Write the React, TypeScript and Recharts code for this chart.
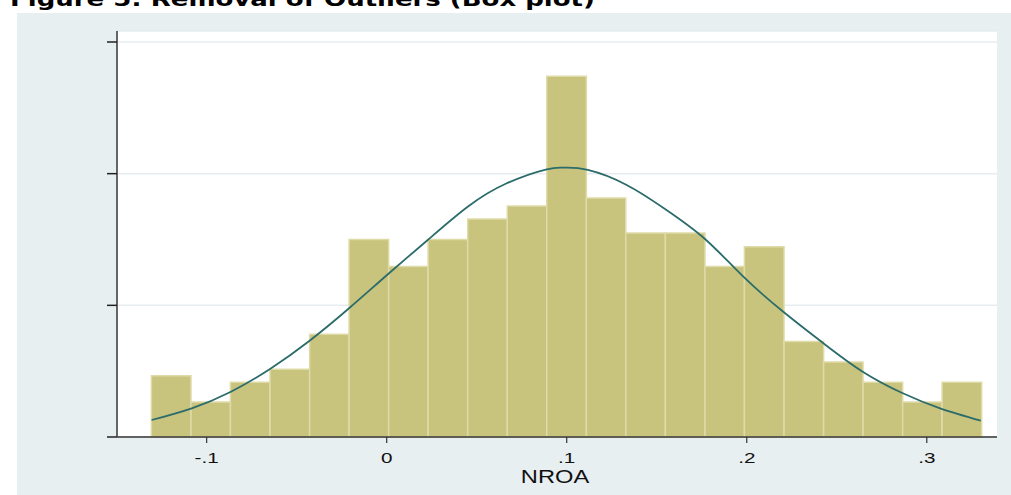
import React from 'react';
import { ComposedChart, Line, XAxis, YAxis, CartesianGrid, ReferenceArea, Label } from 'recharts';

const titleText = 'Figure 5: Removal of Outliers (Box plot)';
const xAxisTitle = 'NROA';

const binEdges = [-0.1307, -0.1087, -0.0868, -0.0648, -0.0428, -0.0209, 0.0011, 0.0230, 0.0450, 0.0670, 0.0889, 0.1109, 0.1328, 0.1548, 0.1768, 0.1987, 0.2207, 0.2427, 0.2646, 0.2866, 0.3085, 0.3305];
const binDensity = [0.93, 0.53, 0.83, 1.03, 1.56, 3.00, 2.59, 3.00, 3.31, 3.51, 5.48, 3.63, 3.10, 3.10, 2.59, 2.89, 1.45, 1.14, 0.83, 0.53, 0.83];

const curveX = [-0.1306, -0.1083, -0.0865, -0.0648, -0.0430, -0.0209, 0.0013, 0.0228, 0.0450, 0.0667, 0.0889, 0.0989, 0.1117, 0.1333, 0.1546, 0.1768, 0.1981, 0.2213, 0.2426, 0.2644, 0.2867, 0.3074, 0.3300];
const curveY = [0.258, 0.436, 0.688, 1.033, 1.458, 1.955, 2.487, 2.993, 3.498, 3.854, 4.067, 4.091, 4.056, 3.828, 3.463, 3.008, 2.435, 1.879, 1.423, 0.992, 0.664, 0.436, 0.248];

const xTicks = [-0.1, 0, 0.1, 0.2, 0.3];
const xTickLabels = ['-.1', '0', '.1', '.2', '.3'];
const yTicks = [0, 2, 4, 6];

const curveData = curveX.map((x, i) => ({ x, d: curveY[i] }));

const XTick = (props: any) => {
  const { x, y, payload } = props;
  const idx = xTicks.indexOf(payload.value);
  const label = idx >= 0 ? xTickLabels[idx] : String(payload.value);
  return (
    <text
      transform={`translate(${x},${y + 18}) scale(1.38,1)`}
      textAnchor="middle"
      fontFamily="Liberation Sans, Arial, sans-serif"
      fontSize={15}
      fill="#111"
    >
      {label}
    </text>
  );
};

const EmptyTick = () => <g />;

const AxisTitle = (props: any) => {
  const vb = props.viewBox || { x: 0, y: 0, width: 0, height: 0 };
  const cx = vb.x + vb.width / 2 - 2;
  return (
    <text
      transform={`translate(${cx},${vb.y + 46}) scale(1.28,1)`}
      textAnchor="middle"
      fontFamily="Liberation Sans, Arial, sans-serif"
      fontSize={18.5}
      fill="#111"
    >
      {xAxisTitle}
    </text>
  );
};

export default function App() {
  return (
    <div style={{ position: 'absolute', left: 0, top: 0, width: 1011, height: 495, background: '#ffffff', overflow: 'hidden' }}>
      <div style={{ position: 'absolute', left: 17, top: 13, width: 994, height: 482, background: '#e8eff1' }} />
      <svg width={1011} height={30} style={{ position: 'absolute', left: 0, top: 0 }}>
        <text
          transform="translate(10,6) scale(1.3,1)"
          fontFamily="DejaVu Sans, Verdana, sans-serif"
          fontWeight="bold"
          fontSize={20}
          fill="#000"
        >
          {titleText}
        </text>
      </svg>
      <div style={{ position: 'absolute', left: 0, top: 0 }}>
        <ComposedChart width={1011} height={495} data={curveData} margin={{ top: 31, right: 14, bottom: 0, left: 0 }}>
          <CartesianGrid vertical={false} horizontal stroke="#e6edf0" strokeWidth={1.5} fill="#ffffff" />
          <XAxis
            dataKey="x"
            type="number"
            domain={[-0.1498, 0.339]}
            ticks={xTicks}
            tick={<XTick />}
            tickSize={6}
            tickLine={{ stroke: '#333', strokeWidth: 1.2 }}
            axisLine={{ stroke: '#333', strokeWidth: 1.5 }}
            height={58}
            allowDataOverflow
            interval={0}
          >
            <Label content={<AxisTitle />} />
          </XAxis>
          <YAxis
            type="number"
            domain={[0, 6.167]}
            ticks={yTicks}
            tick={<EmptyTick />}
            tickSize={10}
            width={117}
            axisLine={{ stroke: '#555', strokeWidth: 1.8 }}
            tickLine={{ stroke: '#222', strokeWidth: 1.5 }}
            allowDataOverflow
            interval={0}
          />
          {binDensity.map((v, i) => (
            <ReferenceArea
              key={i}
              x1={binEdges[i]}
              x2={binEdges[i + 1]}
              y1={0}
              y2={v}
              fill="#c8c37d"
              fillOpacity={1}
              stroke="#dfdba9"
              strokeWidth={1.5}
              ifOverflow="visible"
            />
          ))}
          <Line
            dataKey="d"
            type="natural"
            stroke="#2b6c6b"
            strokeWidth={1.8}
            dot={false}
            activeDot={false}
            isAnimationActive={false}
          />
        </ComposedChart>
      </div>
    </div>
  );
}
